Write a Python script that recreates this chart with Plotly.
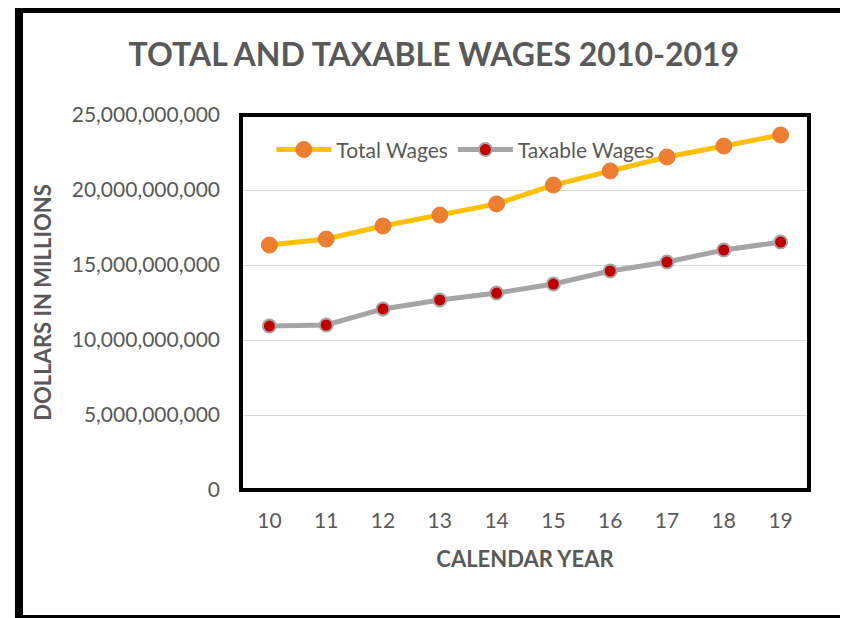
import plotly.graph_objects as go

# calendar years (2-digit) and wages in dollars
years = ["10", "11", "12", "13", "14", "15", "16", "17", "18", "19"]
total_wages = [16.33e9, 16.73e9, 17.6e9, 18.33e9, 19.07e9,
               20.33e9, 21.27e9, 22.2e9, 22.93e9, 23.67e9]
taxable_wages = [10.93e9, 11.0e9, 12.07e9, 12.67e9, 13.13e9,
                 13.73e9, 14.6e9, 15.2e9, 16.0e9, 16.53e9]
y_ticks = [0, 5e9, 10e9, 15e9, 20e9, 25e9]

font = "Lato, 'Open Sans', sans-serif"
gray = "#595959"

# page body adds an 8px margin, so the figure is a bit smaller than the window
W, H = 840, 610
L, R, T, B = 233, 39, 107, 128
pw, ph = W - L - R, H - T - B

fig = go.Figure()
fig.add_trace(go.Scatter(
    x=years, y=total_wages, name="Total Wages", mode="lines+markers",
    line=dict(color="#FFC000", width=5),
    marker=dict(color="#ED7D31", size=16, line=dict(color="#ED7D31", width=1)),
))
fig.add_trace(go.Scatter(
    x=years, y=taxable_wages, name="Taxable Wages", mode="lines+markers",
    line=dict(color="#A5A5A5", width=5),
    marker=dict(color="#C00000", size=13, line=dict(color="#A5A5A5", width=2)),
))

fig.update_layout(
    width=W, height=H,
    margin=dict(l=L, r=R, t=T, b=B),
    paper_bgcolor="white", plot_bgcolor="white",
    font=dict(family=font, color=gray, size=21),
    title=dict(text="<b>TOTAL AND TAXABLE WAGES 2010-2019</b>",
               x=0.507, xanchor="center", y=0.923, yanchor="middle",
               font=dict(size=32, color=gray)),
    legend=dict(orientation="h", x=0.395, xanchor="center", y=0.907, yanchor="middle",
                bgcolor="rgba(0,0,0,0)", font=dict(size=21, color=gray),
                itemwidth=55, traceorder="normal"),
    xaxis=dict(
        type="category", range=[-0.5, 9.5], showgrid=False,
        ticks="", ticklabelstandoff=16,
        title=dict(text="<b>CALENDAR YEAR</b>", font=dict(size=22, color=gray), standoff=20),
    ),
    yaxis=dict(
        range=[0, 25e9], tickvals=y_ticks, tickformat=",.0f",
        showgrid=True, gridcolor="#D9D9D9", gridwidth=1,
        zeroline=False, ticks="", ticklabelstandoff=20,
        title=dict(text="<b>DOLLARS IN MILLIONS</b>", font=dict(size=22, color=gray), standoff=14),
    ),
    shapes=[
        # plot area border
        dict(type="rect", xref="paper", yref="paper", x0=0, y0=0, x1=1, y1=1,
             line=dict(color="black", width=4), layer="above"),
        # outer chart frame
        dict(type="rect", xref="paper", yref="paper",
             x0=(11 - L) / pw, x1=(838 - L) / pw,
             y0=(H - B - 611) / ph, y1=(H - B - 1) / ph,
             line=dict(color="black", width=8), layer="above"),
    ],
)

fig.write_html("out.html")
